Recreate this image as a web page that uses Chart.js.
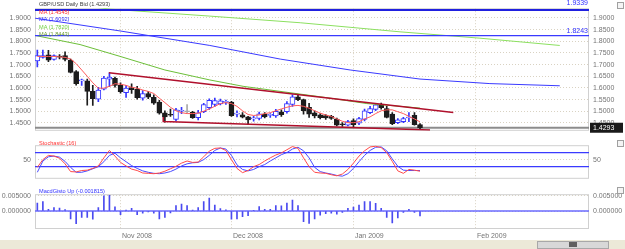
<!DOCTYPE html>
<html>
<head>
<meta charset="utf-8">
<script src="https://cdn.jsdelivr.net/npm/chart.js@4.4.0/dist/chart.umd.min.js"></script>
<style>
body { margin: 0; background: #fff; width: 625px; height: 249px; overflow: hidden; position: relative; font-family: 'Liberation Sans', Arial, sans-serif; }
canvas { position: absolute; left: 0; }
.leg { position: absolute; left: 39px; font-size: 5.6px; line-height: 7.6px; white-space: nowrap; }
.btn { position: absolute; left: 617px; width: 5px; height: 5px; border: 1px solid #a0a0a0; background: #f4f4f4; }
#bar { position: absolute; left: 0; top: 240px; width: 625px; height: 9px; background: #ece9d8; }
#scroll { position: absolute; left: 537px; top: 241px; width: 70px; height: 6px; background: #d8d8d8; border: 1px solid #a8a8a8; }
#thumb { position: absolute; left: 569px; top: 242px; width: 8px; height: 5px; background: #606060; }
</style>
</head>
<body>
<canvas id="main" width="625" height="139" style="top:0"></canvas>
<canvas id="stoch" width="625" height="50" style="top:137px"></canvas>
<canvas id="macd" width="625" height="54" style="top:186px"></canvas>

<div class="leg" style="top:1px;color:#404040">GBP/USD Daily Bid (1.4293)</div>
<div class="leg" style="top:8.6px;color:#ff3030">MA (1.4545)</div>
<div class="leg" style="top:16.2px;color:#3030ff">MA (1.6092)</div>
<div class="leg" style="top:23.8px;color:#70d040">MA (1.7820)</div>
<div class="leg" style="top:31.4px;color:#6a9a30">MA (1.8443)</div>
<div class="leg" style="top:139.5px;color:#ff3030">Stochastic (16)</div>
<div class="leg" style="top:187.5px;color:#3030ff">MacdGisto Up (-0.001815)</div>

<div class="btn" style="top:2px"></div>
<div class="btn" style="top:140px"></div>
<div class="btn" style="top:187px"></div>
<div id="bar"></div>
<div id="scroll"></div>
<div id="thumb"></div>

<script>
// x axis: trading day index, month ticks
const xMin = -0.42, xMax = 99.47;
const monthTicks = [15, 35, 57, 79];
const monthLabels = ['Nov 2008', 'Dec 2008', 'Jan 2009', 'Feb 2009'];
const priceTicks = [1.45, 1.50, 1.55, 1.60, 1.65, 1.70, 1.75, 1.80, 1.85, 1.90];
const stochTicks = [50];
const macdTicks = [0, 0.005];

// daily candles
const opens  = [1.716,1.731,1.742,1.722,1.733,1.739,1.719,1.670,1.630,1.630,1.585,1.552,1.595,1.638,1.641,1.611,1.580,1.601,1.595,1.556,
                1.576,1.560,1.539,1.493,1.486,1.465,1.500,1.498,1.495,1.473,1.498,1.515,1.529,1.531,1.538,1.539,1.488,1.485,1.476,1.467,
                1.469,1.488,1.482,1.480,1.498,1.498,1.529,1.562,1.550,1.517,1.493,1.485,1.481,1.478,1.466,1.445,1.440,1.460,1.449,1.465,
                1.494,1.508,1.527,1.511,1.488,1.451,1.455,1.471,1.482,1.443];
const highs  = [1.762,1.762,1.761,1.742,1.743,1.755,1.724,1.674,1.638,1.638,1.611,1.602,1.650,1.665,1.646,1.622,1.611,1.618,1.607,1.589,
                1.585,1.570,1.547,1.502,1.509,1.513,1.517,1.529,1.500,1.504,1.534,1.553,1.556,1.552,1.548,1.543,1.502,1.494,1.478,1.478,
                1.496,1.494,1.490,1.508,1.506,1.541,1.570,1.570,1.552,1.534,1.502,1.490,1.486,1.482,1.471,1.451,1.461,1.467,1.474,1.509,
                1.521,1.533,1.535,1.521,1.494,1.469,1.474,1.494,1.494,1.447];
const lows   = [1.690,1.727,1.713,1.719,1.724,1.716,1.664,1.612,1.611,1.526,1.525,1.541,1.591,1.605,1.603,1.578,1.559,1.576,1.552,1.548,
                1.554,1.529,1.488,1.453,1.478,1.459,1.490,1.494,1.469,1.463,1.494,1.508,1.521,1.527,1.529,1.478,1.476,1.471,1.443,1.457,
                1.463,1.471,1.474,1.474,1.478,1.492,1.521,1.545,1.488,1.474,1.471,1.467,1.465,1.465,1.437,1.435,1.437,1.433,1.443,1.459,
                1.490,1.502,1.509,1.471,1.443,1.447,1.451,1.455,1.440,1.424];
const closes = [1.739,1.739,1.719,1.739,1.732,1.722,1.666,1.618,1.632,1.585,1.554,1.591,1.642,1.646,1.611,1.584,1.599,1.593,1.558,1.576,
                1.560,1.535,1.492,1.476,1.483,1.506,1.502,1.498,1.473,1.493,1.529,1.547,1.546,1.545,1.539,1.481,1.489,1.475,1.463,1.469,
                1.489,1.476,1.483,1.500,1.485,1.533,1.562,1.550,1.502,1.488,1.480,1.473,1.471,1.469,1.440,1.442,1.456,1.443,1.469,1.502,
                1.511,1.527,1.515,1.474,1.447,1.463,1.469,1.473,1.443,1.4293];

// moving averages
const maShort = [1.735,1.735,1.735,1.735,1.733,1.731,1.724,1.704,1.677,1.650,1.622,1.599,1.599,1.607,1.618,1.616,1.611,1.603,1.599,1.591,
                 1.585,1.576,1.556,1.537,1.517,1.502,1.494,1.490,1.490,1.492,1.500,1.510,1.521,1.533,1.537,1.533,1.521,1.502,1.486,1.482,
                 1.484,1.490,1.494,1.502,1.510,1.517,1.523,1.525,1.521,1.513,1.502,1.492,1.484,1.478,1.467,1.457,1.451,1.451,1.455,1.467,
                 1.476,1.490,1.502,1.506,1.506,1.498,1.490,1.478,1.467,1.4545];
const maBlueX = [-0.4, 14.9, 31.1, 43.8, 56.4, 69.0, 81.6, 94.2];
const maBlueY = [1.8988, 1.8443, 1.7820, 1.7236, 1.6769, 1.6380, 1.6185, 1.6092];
const maLightX = [-0.4, 13.1, 31.1, 47.4, 65.4, 79.8, 94.2];
const maLightY = [1.980, 1.9378, 1.9078, 1.8794, 1.8404, 1.8132, 1.7820];
const maOliveX = [-0.4, 7.7, 14.9, 23.0, 31.1, 37.1, 44.3, 52.8, 59.4, 65.4, 69.0];
const maOliveY = [1.8249, 1.7859, 1.7353, 1.6769, 1.6341, 1.6069, 1.5835, 1.5562, 1.5329, 1.5212, 1.5134];

// drawn lines
const trendUpX = [12.9, 75.0];
const trendUpY = [1.6652, 1.4951];
const trendLowX = [22.7, 22.7, 70.8];
const trendLowY = [1.4757, 1.4562, 1.4200];
const levelLines = [1.9339, 1.8243];
const lastPrice = 1.4293;

// stochastic (16)
const stochK = [28,50,62,60,54,38,16,15,19,20,25,32,55,76,60,42,32,23,19,12,
                11,10,12,17,24,31,40,46,42,43,58,74,82,83,76,50,25,13,19,30,
                36,46,55,63,69,78,87,82,55,30,14,12,11,7,4,9,22,40,60,75,
                86,88,84,70,45,18,11,22,20,17];
const stochD = [14,46,58,60,57,45,28,14,14,18,24,30,44,62,68,55,44,33,25,18,
                14,11,10,12,16,23,32,38,41,42,50,62,76,83,80,62,35,22,18,22,
                30,36,46,55,64,70,80,85,75,55,28,16,12,9,5,3,10,25,44,62,
                76,85,86,75,52,31,20,19,19,19];
const stochBands = [70, 30];

// macd histogram
const macdHist = [0.0026,0.0031,0.0006,0.0011,0.0010,0.0005,-0.0026,-0.0042,-0.0021,-0.0021,
                  -0.0027,0.0011,0.0050,0.0052,0.0014,-0.0012,0.0003,0.0009,-0.0012,-0.0007,
                  -0.0003,-0.0007,-0.0026,-0.0021,-0.0006,0.0018,0.0023,0.0018,0.0003,0.0011,
                  0.0031,0.0043,0.0020,0.0008,0.0004,-0.0027,-0.0026,-0.0019,-0.0015,0.0002,
                  0.0015,0.0006,0.0006,0.0018,0.0017,0.0026,0.0036,0.0018,-0.0035,-0.0041,
                  -0.0026,-0.0014,-0.0009,-0.0007,-0.0010,-0.0005,0.0009,0.0013,0.0020,0.0031,
                  0.0031,0.0025,0.0009,-0.0021,-0.0039,-0.0023,-0.0005,0.0006,-0.0005,-0.0016];

const FONT = 'Liberation Sans';
const GRID = '#d9d2c2';
const AXIS_TEXT = '#747474';
const UP = '#3535ff', DOWN = '#1c1c1c', FLAT = '#a8a8a8';

function pts(xs, ys) {
    return xs.map((x, i) => ({ x: x, y: ys[i] }));
}

function xScale(show) {
    return {
        type: 'linear', min: xMin, max: xMax, offset: false,
        afterBuildTicks: s => { s.ticks = monthTicks.map(v => ({ value: v })); },
        afterFit: s => { s.height = show ? 11 : 0; },
        grid: { color: GRID, drawTicks: false, offset: false },
        border: { display: false, dash: [1, 2] },
        ticks: {
            display: show, align: 'start', labelOffset: 1.5, padding: 3,
            font: { family: FONT, size: 7 }, color: AXIS_TEXT,
            callback: v => monthLabels[monthTicks.indexOf(v)]
        }
    };
}

function yScale(pos, min, max, tickVals, fmt) {
    return {
        type: 'linear', position: pos, min: min, max: max,
        afterBuildTicks: s => { s.ticks = tickVals.map(v => ({ value: v })); },
        afterFit: s => { s.width = pos === 'left' ? 35 : 36; },
        grid: { display: pos === 'right', color: GRID, drawTicks: false },
        border: { display: false, dash: [1, 2] },
        ticks: { padding: 4, font: { family: FONT, size: 7 }, color: AXIS_TEXT, callback: fmt }
    };
}

function lineSet(data, color, width, order) {
    return { type: 'line', data: data, borderColor: color, borderWidth: width || 1, pointRadius: 0,
             tension: 0, yAxisID: 'yR', order: order || 1 };
}

const framePlugin = {
    id: 'frame',
    beforeDatasetsDraw(chart) {
        const a = chart.chartArea, ctx = chart.ctx;
        ctx.save();
        ctx.strokeStyle = '#d0d0d0';
        ctx.lineWidth = 1;
        ctx.strokeRect(a.left + 0.5, a.top + 0.5, a.right - a.left - 1, a.bottom - a.top - 1);
        ctx.restore();
    }
};

const common = { responsive: false, animation: false, events: [],
                 plugins: { legend: { display: false }, tooltip: { enabled: false } } };

// ---- price panel ----
const candleColor = opens.map((o, i) => closes[i] > o ? UP : closes[i] < o ? DOWN : FLAT);
const bodyFill = opens.map((o, i) => closes[i] > o ? '#ffffff' : closes[i] < o ? DOWN : FLAT);

const priceLabels = {
    id: 'priceLabels',
    afterDatasetsDraw(chart) {
        const ctx = chart.ctx, y = chart.scales.yR, a = chart.chartArea;
        ctx.save();
        ctx.font = '7px ' + FONT;
        ctx.fillStyle = '#3030ff';
        ctx.textAlign = 'right';
        ctx.textBaseline = 'bottom';
        ctx.fillText(levelLines[0].toFixed(4), a.right - 1, y.getPixelForValue(levelLines[0]) - 3);
        ctx.fillText(levelLines[1].toFixed(4), a.right - 1, y.getPixelForValue(levelLines[1]) - 1);
        const py = y.getPixelForValue(lastPrice);
        ctx.fillStyle = '#1a1a1a';
        ctx.fillRect(a.right + 1, py - 5, 33, 10);
        ctx.fillStyle = '#ffffff';
        ctx.textAlign = 'left';
        ctx.textBaseline = 'middle';
        ctx.fillText(lastPrice.toFixed(4), a.right + 4, py + 0.5);
        ctx.restore();
    }
};

new Chart(document.getElementById('main'), {
    type: 'bar',
    data: {
        datasets: [
            { data: opens.map((o, i) => ({ x: i, y: [lows[i], highs[i]] })), backgroundColor: candleColor,
              barThickness: 1, grouped: false, yAxisID: 'yR', order: 6 },
            { data: opens.map((o, i) => ({ x: i, y: [o, closes[i]] })), backgroundColor: bodyFill, borderColor: candleColor,
              borderWidth: 1, borderSkipped: false, minBarLength: 1, barThickness: 5, grouped: false, yAxisID: 'yR', order: 5 },
            lineSet([{ x: xMin, y: lastPrice }, { x: xMax, y: lastPrice }], '#8c8c8c', 2, 7),
            lineSet([{ x: xMin, y: levelLines[0] }, { x: xMax, y: levelLines[0] }], '#2020e0', 2, 2),
            lineSet([{ x: xMin, y: levelLines[1] }, { x: xMax, y: levelLines[1] }], '#3a3aff', 1.2, 2),
            lineSet(pts(maLightX, maLightY), '#8ce060', 1, 3),
            lineSet(pts(maOliveX, maOliveY), '#6cbf38', 1, 3),
            lineSet(pts(maBlueX, maBlueY), '#3a3aff', 1, 3),
            lineSet(maShort.map((v, i) => ({ x: i, y: v })), '#ff5a5a', 1, 2),
            lineSet(pts(trendUpX, trendUpY), '#b0102c', 1.5, 1),
            lineSet(pts(trendLowX, trendLowY), '#b0102c', 1.5, 1)
        ]
    },
    options: Object.assign({}, common, {
        layout: { padding: { top: 2, bottom: 2 } },
        scales: {
            x: xScale(false),
            yL: yScale('left', 1.4162, 1.9417, priceTicks, v => v.toFixed(4)),
            yR: yScale('right', 1.4162, 1.9417, priceTicks, v => v.toFixed(4))
        }
    }),
    plugins: [framePlugin, priceLabels]
});

// ---- stochastic panel ----
new Chart(document.getElementById('stoch'), {
    type: 'line',
    data: {
        datasets: [
            lineSet([{ x: xMin, y: stochBands[0] }, { x: xMax, y: stochBands[0] }], '#3a3aff', 1.2, 3),
            lineSet([{ x: xMin, y: stochBands[1] }, { x: xMax, y: stochBands[1] }], '#3a3aff', 1.2, 3),
            lineSet(stochD.map((v, i) => ({ x: i, y: v })), '#4a4aff', 1, 2),
            lineSet(stochK.map((v, i) => ({ x: i, y: v })), '#ff4a4a', 1, 1)
        ]
    },
    options: Object.assign({}, common, {
        layout: { padding: { top: 2, bottom: 1 } },
        scales: {
            x: xScale(false),
            yL: yScale('left', -4.5, 90.9, stochTicks, v => String(v)),
            yR: yScale('right', -4.5, 90.9, stochTicks, v => String(v))
        }
    }),
    plugins: [framePlugin]
});

// ---- macd panel ----
new Chart(document.getElementById('macd'), {
    type: 'bar',
    data: {
        datasets: [
            lineSet([{ x: xMin, y: 0 }, { x: xMax, y: 0 }], '#6a6aff', 1.5, 2),
            { data: macdHist.map((v, i) => ({ x: i, y: v })), backgroundColor: '#4a4af0',
              barThickness: 1, grouped: false, yAxisID: 'yR', order: 1 }
        ]
    },
    options: Object.assign({}, common, {
        layout: { padding: { top: 1, bottom: 0 } },
        scales: {
            x: xScale(true),
            yL: yScale('left', -0.00593, 0.00555, macdTicks, v => v.toFixed(6)),
            yR: yScale('right', -0.00593, 0.00555, macdTicks, v => v.toFixed(6))
        }
    }),
    plugins: [framePlugin]
});
</script>
</body>
</html>
